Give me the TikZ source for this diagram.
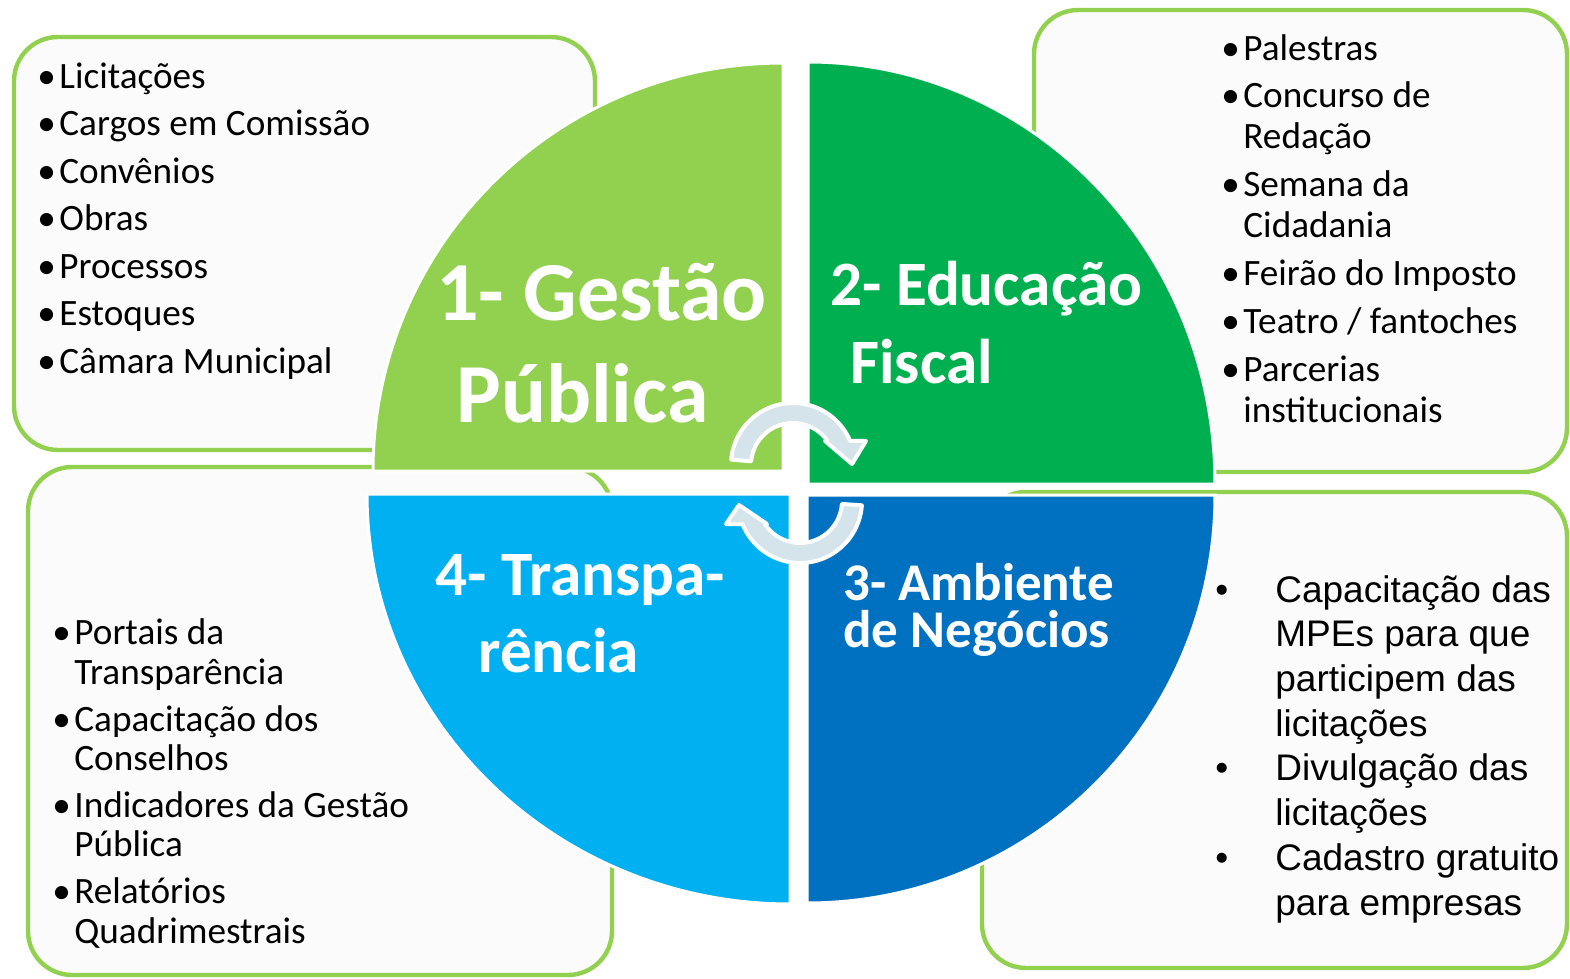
\documentclass[tikz,border=0pt]{standalone}
\usepackage{fontspec}
\setmainfont{Carlito}
\newfontfamily\arialfont{Liberation Sans}
\usepackage{tikz}
\usetikzlibrary{calc,positioning}
\usepackage{xcolor}
\definecolor{lightgreen}{HTML}{92D050}
\definecolor{darkgreen}{HTML}{00B050}
\definecolor{lightblue}{HTML}{00B0F0}
\definecolor{darkblue}{HTML}{0070C0}
\definecolor{boxfill}{HTML}{FBFBFB}
\definecolor{arrowfill}{HTML}{D5E3EB}
\tikzset{
  listbox/.style={draw=lightgreen, fill=boxfill, line width=2.2pt, rounded corners=22pt},
  quadtitle/.style={text=white, align=left, anchor=base west, inner sep=0pt},
  itemlist/.style={align=left, anchor=base west, inner sep=0pt},
  cyclearrow/.style={fill=arrowfill, draw=white, line width=2pt, line join=round},
}
\newcommand{\bul}{\makebox[11pt][l]{•}}
\newcommand{\ind}{\hspace*{11pt}}
\newcommand{\abul}{\makebox[30pt][l]{•}}
\newcommand{\aind}{\hspace*{30pt}}
\newcommand{\tightlines}{\lineskiplimit-20pt\relax}

\begin{document}
\begin{tikzpicture}[x=0.5pt, y=-0.5pt]
  \useasboundingbox (0,0) rectangle (1570,979);

  % boxes behind the circle
  \draw[listbox] (14,37) rectangle (595,450);
  \draw[listbox] (1034,10) rectangle (1567,472);
  \draw[listbox] (982,492) rectangle (1567,968);
  \draw[listbox] (28,467) rectangle (612,975);

  % the four quadrants
  \foreach \cx/\cy/\sx/\sy/\a/\rx/\ry/\col in {783/471/-410/0/180/410/408/lightgreen,
      808/484/0/-422/270/407/422/darkgreen, 807/495/408/0/0/408/408/darkblue,
      790/494/0/410/90/423/410/lightblue}
    {
      \fill[\col, draw=white, line width=1.5pt] (\cx,\cy) -- ++(\sx,\sy)
        arc[start angle=\a, delta angle=90, x radius=\rx, y radius=\ry] -- cycle;
    }

  % titles (placed at the baseline of their last line)
  \node[quadtitle, font=\fontsize{42}{51}\selectfont\bfseries] (gestao) at (436,422) {1- Gestão\\\hspace*{10pt}Pública};
  \node[quadtitle, font=\fontsize{31.6}{39}\selectfont\bfseries] (educacao) at (830,383) {2- Educação\\\hspace*{10pt}Fiscal};
  \node[quadtitle, font=\fontsize{26.5}{23.5}\selectfont\bfseries\tightlines] (negocios) at (843,647) {3- Ambiente\\de Negócios};
  \node[quadtitle, font=\fontsize{31.6}{38.5}\selectfont\bfseries] (transparencia) at (435,672) {4- Transpa-\\\hspace*{21.5pt}rência};

  % cycle arrows
  \coordinate (c1) at (793,465);
  \coordinate (c2) at (800,501);
  \draw[cyclearrow] ($(c1)+(-175:62)$) arc[start angle=-175, end angle=-22.8, radius=62]
    -- (866,441) -- (852,464) -- (825,441) -- ($(c1)+(-34.8:42)$)
    arc[start angle=-34.8, end angle=-175, radius=42] -- cycle;
  \draw[cyclearrow] ($(c2)+(4:62)$) arc[start angle=4, end angle=158.2, radius=62]
    -- (726,524) -- (739,505) -- (767,524) -- ($(c2)+(146.7:42)$)
    arc[start angle=146.7, end angle=4, radius=42] -- cycle;

  % lists
  \node[itemlist, font=\fontsize{18.6}{23.75}\selectfont] (gestaolist) at (37,373) {\bul Licitações\\
    \bul Cargos em Comissão\\ \bul Convênios\\ \bul Obras\\ \bul Processos\\
    \bul Estoques\\ \bul Câmara Municipal};
  \node[itemlist, font=\fontsize{18.6}{20.5}\selectfont] (educacaolist) at (1221,422) {\bul Palestras\\[3.4pt]
    \bul Concurso de\\ \ind Redação\\[3.4pt] \bul Semana da\\ \ind Cidadania\\[3.4pt]
    \bul Feirão do Imposto\\[3.4pt] \bul Teatro / fantoches\\[3.4pt]
    \bul Parcerias\\ \ind institucionais};
  \node[itemlist, font=\arialfont\fontsize{18.5}{22.35}\selectfont] (negocioslist) at (1215,915) {\abul Capacitação das\\
    \aind MPEs para que\\ \aind participem das\\ \aind licitações\\
    \abul Divulgação das\\ \aind licitações\\
    \abul Cadastro gratuito\\ \aind para empresas};
  \node[itemlist, font=\fontsize{18.6}{19.75}\selectfont] (transparencialist) at (52,943) {\bul Portais da\\
    \ind Transparência\\[3.6pt] \bul Capacitação dos\\ \ind Conselhos\\[3.6pt]
    \bul Indicadores da Gestão\\ \ind Pública\\[3.6pt]
    \bul Relatórios\\ \ind Quadrimestrais};
\end{tikzpicture}
\end{document}
